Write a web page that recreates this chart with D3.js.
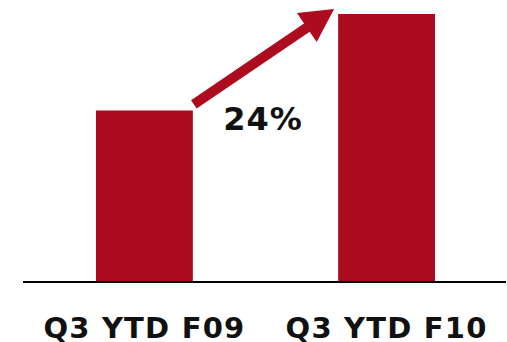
<!DOCTYPE html>
<html>
<head>
<meta charset="utf-8">
<script src="https://cdn.jsdelivr.net/npm/d3@7"></script>
<style>
  html, body { margin: 0; padding: 0; background: #fff; }
  svg { display: block; }
</style>
</head>
<body>
<svg id="chart" width="507" height="342"></svg>
<script>
// Year-to-date totals, indexed to the later period (= 100)
const categories = ["Q3 YTD F09", "Q3 YTD F10"];
const values = [64, 100];
const growthLabel = "24%";

const barColor = "#AD0C1F";
const svg = d3.select("#chart");

const x = d3.scaleBand()
  .domain(categories)
  .range([96, 435])
  .paddingInner(0.6)
  .paddingOuter(0);

const y = d3.scaleLinear()
  .domain([0, 100])
  .range([282, 14]);

// bars
svg.append("g")
  .selectAll("rect")
  .data(values)
  .join("rect")
  .attr("x", (d, i) => x(categories[i]))
  .attr("y", d => y(d))
  .attr("width", x.bandwidth())
  .attr("height", d => y(0) - y(d))
  .attr("fill", barColor);

// baseline
svg.append("line")
  .attr("x1", 23).attr("x2", 506)
  .attr("y1", y(0)).attr("y2", y(0))
  .attr("stroke", "#000")
  .attr("stroke-width", 2);

// category labels
svg.append("g")
  .selectAll("text")
  .data(categories)
  .join("text")
  .attr("x", d => x(d) + x.bandwidth() / 2)
  .attr("y", 338)
  .attr("text-anchor", "middle")
  .attr("font-family", "'DejaVu Sans', sans-serif")
  .attr("font-weight", "bold")
  .attr("font-size", 29)
  .attr("letter-spacing", 1.2)
  .attr("fill", "#111")
  .text(d => d);

// growth arrow from the first bar's top to the second bar's top
const x0 = x(categories[0]) + x.bandwidth() + 1, y0 = y(values[0]) - 6;
const x1 = x(categories[1]) - 4, y1 = y(values[1]) - 5;
const len = Math.hypot(x1 - x0, y1 - y0);
const ux = (x1 - x0) / len, uy = (y1 - y0) / len;
const nx = -uy, ny = ux;
const headLen = 33, headHalf = 17.5, shaftHalf = 5;
const bx = x1 - ux * headLen, by = y1 - uy * headLen;
const pts = [
  [x0 + nx * shaftHalf, y0 + ny * shaftHalf],
  [bx + nx * shaftHalf, by + ny * shaftHalf],
  [bx + nx * headHalf, by + ny * headHalf],
  [x1, y1],
  [bx - nx * headHalf, by - ny * headHalf],
  [bx - nx * shaftHalf, by - ny * shaftHalf],
  [x0 - nx * shaftHalf, y0 - ny * shaftHalf]
];
svg.append("path")
  .attr("d", d3.line()(pts) + "Z")
  .attr("fill", barColor);

// growth label
svg.append("text")
  .attr("x", 263)
  .attr("y", 130)
  .attr("text-anchor", "middle")
  .attr("font-family", "'DejaVu Sans', sans-serif")
  .attr("font-weight", "bold")
  .attr("font-size", 32)
  .attr("letter-spacing", 1)
  .attr("fill", "#111")
  .text(growthLabel);
</script>
</body>
</html>
